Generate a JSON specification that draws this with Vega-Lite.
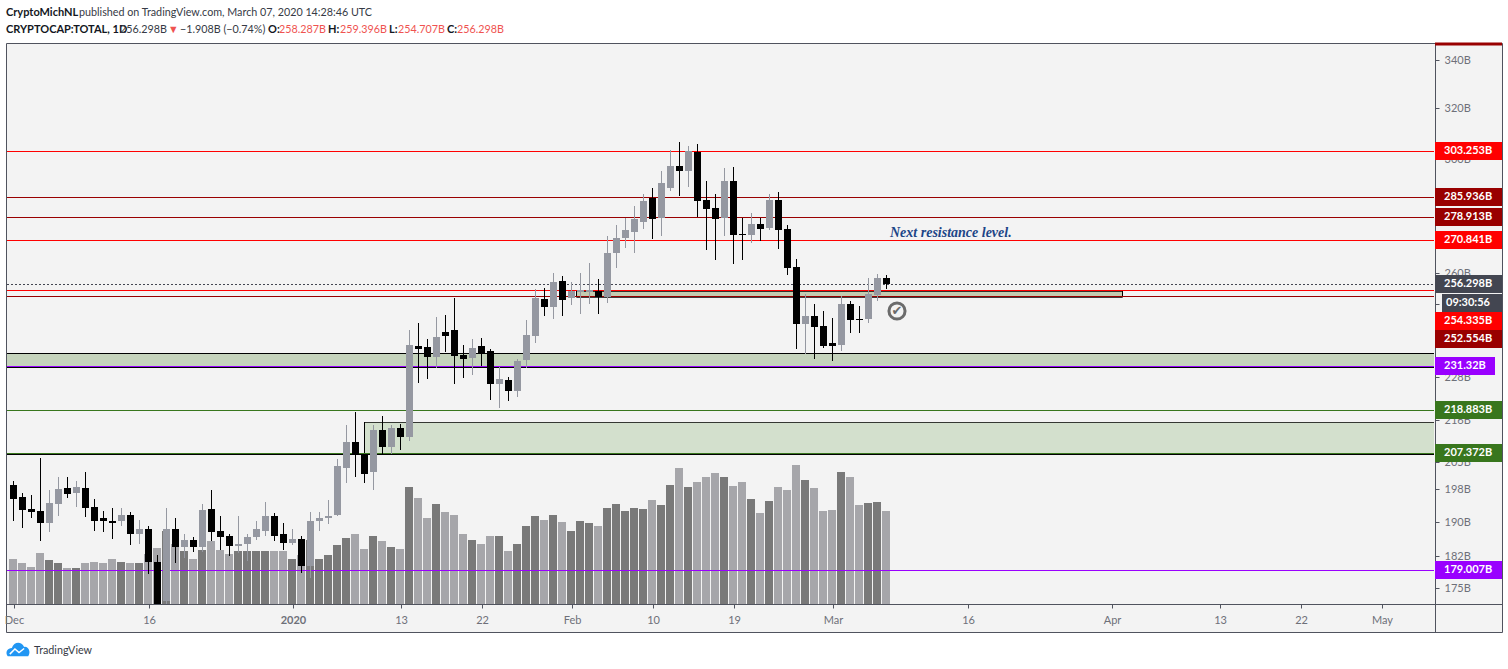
{
"$schema":"https://vega.github.io/schema/vega-lite/v6.json",
"width":1496,"height":589,
"autosize":{"type":"none"},
"padding":{"left":6,"top":43,"right":6,"bottom":37},
"background":"#ffffff",
"view":{"fill":"#f3f3f3","stroke":"#50535e"},
"config":{"font":"Lato"},
"datasets":{
"candles":[
{"date":"2019-12-01","open":199.0,"high":200.2,"low":190.4,"close":195.6,"dir":"down","vol":22.5},
{"date":"2019-12-02","open":196.2,"high":197.2,"low":188.7,"close":193.0,"dir":"down","vol":20.5},
{"date":"2019-12-03","open":193.3,"high":196.7,"low":190.9,"close":192.5,"dir":"down","vol":18.5},
{"date":"2019-12-04","open":192.8,"high":206.1,"low":185.6,"close":189.7,"dir":"down","vol":25.5},
{"date":"2019-12-05","open":189.7,"high":197.9,"low":187.6,"close":194.7,"dir":"up","vol":22},
{"date":"2019-12-06","open":194.4,"high":201.0,"low":191.6,"close":198.2,"dir":"up","vol":20.5},
{"date":"2019-12-07","open":198.4,"high":201.2,"low":195.9,"close":196.9,"dir":"down","vol":18},
{"date":"2019-12-08","open":197.2,"high":200.2,"low":193.7,"close":198.7,"dir":"up","vol":18},
{"date":"2019-12-09","open":198.4,"high":202.3,"low":191.3,"close":193.5,"dir":"down","vol":20.5},
{"date":"2019-12-10","open":193.7,"high":195.6,"low":188.0,"close":190.4,"dir":"down","vol":21},
{"date":"2019-12-11","open":190.9,"high":192.8,"low":187.6,"close":190.2,"dir":"down","vol":20.5},
{"date":"2019-12-12","open":190.2,"high":193.5,"low":186.1,"close":189.9,"dir":"down","vol":22.5},
{"date":"2019-12-13","open":190.2,"high":193.5,"low":189.2,"close":191.8,"dir":"up","vol":21},
{"date":"2019-12-14","open":191.8,"high":192.5,"low":184.7,"close":187.1,"dir":"down","vol":20.5},
{"date":"2019-12-15","open":187.1,"high":190.6,"low":184.9,"close":188.5,"dir":"up","vol":20.5},
{"date":"2019-12-16","open":188.5,"high":189.2,"low":178.1,"close":180.8,"dir":"down","vol":25},
{"date":"2019-12-17","open":180.8,"high":182.4,"low":171.4,"close":171.4,"dir":"down","vol":28},
{"date":"2019-12-18","open":172.0,"high":193.5,"low":171.4,"close":188.3,"dir":"up","vol":36.5},
{"date":"2019-12-19","open":188.3,"high":190.9,"low":180.6,"close":184.2,"dir":"down","vol":30},
{"date":"2019-12-20","open":184.2,"high":187.3,"low":181.7,"close":185.9,"dir":"up","vol":26.5},
{"date":"2019-12-21","open":185.9,"high":186.6,"low":183.1,"close":184.2,"dir":"down","vol":22.5},
{"date":"2019-12-22","open":184.2,"high":194.4,"low":183.1,"close":193.0,"dir":"up","vol":27},
{"date":"2019-12-23","open":193.3,"high":197.9,"low":185.6,"close":187.6,"dir":"down","vol":31.5},
{"date":"2019-12-24","open":187.8,"high":191.4,"low":183.5,"close":186.4,"dir":"down","vol":27},
{"date":"2019-12-25","open":186.8,"high":187.3,"low":182.2,"close":184.5,"dir":"down","vol":25},
{"date":"2019-12-26","open":184.5,"high":191.6,"low":182.8,"close":184.9,"dir":"up","vol":26.5},
{"date":"2019-12-27","open":184.9,"high":187.3,"low":181.0,"close":186.6,"dir":"up","vol":26.5},
{"date":"2019-12-28","open":186.6,"high":190.2,"low":185.9,"close":188.3,"dir":"up","vol":26.5},
{"date":"2019-12-29","open":188.0,"high":194.9,"low":186.8,"close":191.4,"dir":"up","vol":26.5},
{"date":"2019-12-30","open":191.4,"high":192.1,"low":185.6,"close":186.8,"dir":"down","vol":26.5},
{"date":"2019-12-31","open":187.1,"high":189.7,"low":183.5,"close":185.2,"dir":"down","vol":26.5},
{"date":"2020-01-01","open":185.2,"high":188.3,"low":184.7,"close":186.1,"dir":"up","vol":22.5},
{"date":"2020-01-02","open":186.1,"high":186.8,"low":178.3,"close":179.9,"dir":"down","vol":24.5},
{"date":"2020-01-03","open":179.9,"high":192.5,"low":177.2,"close":190.2,"dir":"up","vol":32},
{"date":"2020-01-04","open":190.2,"high":192.5,"low":187.8,"close":191.1,"dir":"up","vol":22.5},
{"date":"2020-01-05","open":190.9,"high":195.4,"low":189.5,"close":191.4,"dir":"up","vol":24.5},
{"date":"2020-01-06","open":191.8,"high":205.8,"low":191.4,"close":203.8,"dir":"up","vol":29.5},
{"date":"2020-01-07","open":203.5,"high":214.6,"low":199.5,"close":210.3,"dir":"up","vol":33},
{"date":"2020-01-08","open":210.3,"high":218.3,"low":201.2,"close":206.8,"dir":"down","vol":35},
{"date":"2020-01-09","open":207.1,"high":207.1,"low":199.5,"close":202.0,"dir":"down","vol":27.5},
{"date":"2020-01-10","open":202.3,"high":214.6,"low":197.9,"close":213.3,"dir":"up","vol":34},
{"date":"2020-01-11","open":213.3,"high":217.2,"low":207.1,"close":208.9,"dir":"down","vol":31.5},
{"date":"2020-01-12","open":208.9,"high":214.6,"low":207.1,"close":213.8,"dir":"up","vol":28.5},
{"date":"2020-01-13","open":214.0,"high":214.9,"low":208.1,"close":211.6,"dir":"down","vol":27.5},
{"date":"2020-01-14","open":211.6,"high":242.1,"low":210.5,"close":237.5,"dir":"up","vol":58.5},
{"date":"2020-01-15","open":237.2,"high":244.0,"low":226.5,"close":236.3,"dir":"down","vol":53},
{"date":"2020-01-16","open":236.9,"high":239.4,"low":227.4,"close":234.0,"dir":"down","vol":43},
{"date":"2020-01-17","open":234.0,"high":246.1,"low":230.8,"close":240.0,"dir":"up","vol":50},
{"date":"2020-01-18","open":241.5,"high":246.7,"low":235.4,"close":240.3,"dir":"down","vol":46},
{"date":"2020-01-19","open":242.1,"high":251.8,"low":226.0,"close":234.3,"dir":"down","vol":44.5},
{"date":"2020-01-20","open":234.6,"high":237.5,"low":227.7,"close":233.4,"dir":"down","vol":35},
{"date":"2020-01-21","open":233.7,"high":239.4,"low":228.8,"close":236.6,"dir":"up","vol":32},
{"date":"2020-01-22","open":237.2,"high":239.7,"low":231.4,"close":234.8,"dir":"down","vol":30},
{"date":"2020-01-23","open":235.7,"high":236.3,"low":221.6,"close":226.2,"dir":"down","vol":34},
{"date":"2020-01-24","open":226.2,"high":231.1,"low":219.4,"close":227.4,"dir":"up","vol":34},
{"date":"2020-01-25","open":227.1,"high":228.2,"low":221.3,"close":224.2,"dir":"down","vol":26.5},
{"date":"2020-01-26","open":224.2,"high":233.4,"low":222.5,"close":232.6,"dir":"up","vol":30},
{"date":"2020-01-27","open":232.9,"high":245.2,"low":230.6,"close":240.6,"dir":"up","vol":39},
{"date":"2020-01-28","open":240.3,"high":254.9,"low":238.2,"close":251.9,"dir":"up","vol":44},
{"date":"2020-01-29","open":251.6,"high":255.2,"low":246.4,"close":249.2,"dir":"down","vol":42},
{"date":"2020-01-30","open":249.2,"high":260.1,"low":245.5,"close":257.2,"dir":"up","vol":44.5},
{"date":"2020-01-31","open":257.5,"high":259.1,"low":246.4,"close":251.3,"dir":"down","vol":41},
{"date":"2020-02-01","open":251.9,"high":257.2,"low":249.8,"close":254.2,"dir":"up","vol":36.5},
{"date":"2020-02-02","open":253.9,"high":260.1,"low":247.0,"close":254.5,"dir":"up","vol":41.5},
{"date":"2020-02-03","open":253.9,"high":263.4,"low":250.1,"close":254.5,"dir":"up","vol":40.5},
{"date":"2020-02-04","open":254.2,"high":258.1,"low":247.0,"close":252.2,"dir":"down","vol":39},
{"date":"2020-02-05","open":252.3,"high":272.2,"low":250.4,"close":266.7,"dir":"up","vol":48},
{"date":"2020-02-06","open":266.7,"high":276.2,"low":261.5,"close":271.6,"dir":"up","vol":50},
{"date":"2020-02-07","open":271.6,"high":278.6,"low":268.4,"close":274.4,"dir":"up","vol":46.5},
{"date":"2020-02-08","open":273.6,"high":282.7,"low":266.7,"close":278.2,"dir":"up","vol":48},
{"date":"2020-02-09","open":277.2,"high":287.0,"low":274.8,"close":284.8,"dir":"up","vol":47.5},
{"date":"2020-02-10","open":285.8,"high":289.2,"low":271.2,"close":278.2,"dir":"down","vol":52},
{"date":"2020-02-11","open":278.5,"high":295.7,"low":272.2,"close":291.3,"dir":"up","vol":49.5},
{"date":"2020-02-12","open":289.5,"high":303.5,"low":288.1,"close":297.6,"dir":"up","vol":59.5},
{"date":"2020-02-13","open":297.6,"high":306.7,"low":286.6,"close":295.7,"dir":"down","vol":68},
{"date":"2020-02-14","open":295.7,"high":305.1,"low":289.8,"close":303.1,"dir":"up","vol":58.5},
{"date":"2020-02-15","open":302.8,"high":305.9,"low":279.1,"close":284.8,"dir":"down","vol":61},
{"date":"2020-02-16","open":285.1,"high":292.0,"low":267.7,"close":281.6,"dir":"down","vol":63.5},
{"date":"2020-02-17","open":282.0,"high":287.0,"low":264.1,"close":278.2,"dir":"down","vol":65.5},
{"date":"2020-02-18","open":278.5,"high":296.8,"low":272.2,"close":291.7,"dir":"up","vol":63.5},
{"date":"2020-02-19","open":292.0,"high":297.1,"low":263.1,"close":272.6,"dir":"down","vol":59},
{"date":"2020-02-20","open":272.9,"high":278.5,"low":264.1,"close":272.6,"dir":"down","vol":61},
{"date":"2020-02-21","open":272.6,"high":280.2,"low":270.1,"close":276.4,"dir":"up","vol":52.5},
{"date":"2020-02-22","open":276.4,"high":278.5,"low":270.8,"close":274.7,"dir":"down","vol":45.5},
{"date":"2020-02-23","open":275.0,"high":287.3,"low":274.3,"close":285.1,"dir":"up","vol":51.5},
{"date":"2020-02-24","open":285.1,"high":287.7,"low":268.0,"close":274.3,"dir":"down","vol":58.5},
{"date":"2020-02-25","open":274.7,"high":276.1,"low":259.2,"close":261.5,"dir":"down","vol":57},
{"date":"2020-02-26","open":261.8,"high":264.7,"low":236.3,"close":243.7,"dir":"down","vol":69.5},
{"date":"2020-02-27","open":243.7,"high":253.3,"low":234.8,"close":246.4,"dir":"up","vol":62},
{"date":"2020-02-28","open":246.4,"high":250.1,"low":233.4,"close":243.0,"dir":"down","vol":58},
{"date":"2020-02-29","open":243.3,"high":247.9,"low":236.6,"close":237.2,"dir":"down","vol":46.5},
{"date":"2020-03-01","open":238.1,"high":245.8,"low":232.8,"close":237.2,"dir":"down","vol":47},
{"date":"2020-03-02","open":237.5,"high":252.6,"low":235.7,"close":250.1,"dir":"up","vol":66},
{"date":"2020-03-03","open":250.1,"high":251.0,"low":241.2,"close":245.2,"dir":"down","vol":63.5},
{"date":"2020-03-04","open":245.5,"high":249.5,"low":241.2,"close":245.2,"dir":"down","vol":49.5},
{"date":"2020-03-05","open":245.5,"high":258.2,"low":244.0,"close":253.3,"dir":"up","vol":50.5},
{"date":"2020-03-06","open":252.9,"high":259.8,"low":251.0,"close":258.4,"dir":"up","vol":51},
{"date":"2020-03-07","open":258.287,"high":259.396,"low":254.707,"close":256.298,"dir":"down","vol":46.5}
],
"zones":[
{"date":"2019-11-30T06:40:00Z","end":"2020-05-06T20:00:00Z","top":235.08,"bottom":230.96,"kind":"upper"},
{"date":"2020-01-09T00:00:00Z","end":"2020-05-06T20:00:00Z","top":215.5,"bottom":207.0,"kind":"lower"},
{"date":"2020-02-01T13:20:00Z","end":"2020-04-02T05:20:00Z","top":254.2,"bottom":252.2,"kind":"pivot"}
],
"edges":[
{"date":"2020-01-09T00:00:00Z","top":215.5,"bottom":207.0},
{"date":"2020-02-01T13:20:00Z","top":254.2,"bottom":252.2},
{"date":"2020-04-02T05:20:00Z","top":254.2,"bottom":252.2}
],
"levels":[
{"date":"2019-11-30T06:40:00Z","end":"2020-05-06T20:00:00Z","price":303.253,"kind":"red","style":"solid"},
{"date":"2019-11-30T06:40:00Z","end":"2020-05-06T20:00:00Z","price":285.936,"kind":"dark","style":"solid"},
{"date":"2019-11-30T06:40:00Z","end":"2020-05-06T20:00:00Z","price":278.913,"kind":"dark","style":"solid"},
{"date":"2019-11-30T06:40:00Z","end":"2020-05-06T20:00:00Z","price":270.841,"kind":"red","style":"solid"},
{"date":"2019-11-30T06:40:00Z","end":"2020-05-06T20:00:00Z","price":256.298,"kind":"last","style":"dotted"},
{"date":"2020-02-01T13:20:00Z","end":"2020-04-02T05:20:00Z","price":254.2,"kind":"black","style":"solid"},
{"date":"2019-11-30T06:40:00Z","end":"2020-05-06T20:00:00Z","price":254.335,"kind":"red","style":"solid"},
{"date":"2019-11-30T06:40:00Z","end":"2020-05-06T20:00:00Z","price":252.554,"kind":"dark","style":"solid"},
{"date":"2020-02-01T13:20:00Z","end":"2020-04-02T05:20:00Z","price":252.2,"kind":"black","style":"solid"},
{"date":"2019-11-30T06:40:00Z","end":"2020-05-06T20:00:00Z","price":235.08,"kind":"black","style":"solid"},
{"date":"2019-11-30T06:40:00Z","end":"2020-05-06T20:00:00Z","price":231.32,"kind":"purple","style":"solid"},
{"date":"2019-11-30T06:40:00Z","end":"2020-05-06T20:00:00Z","price":230.96,"kind":"black","style":"solid"},
{"date":"2019-11-30T06:40:00Z","end":"2020-05-06T20:00:00Z","price":218.883,"kind":"green","style":"solid"},
{"date":"2020-01-09T00:00:00Z","end":"2020-05-06T20:00:00Z","price":215.5,"kind":"black","style":"solid"},
{"date":"2019-11-30T06:40:00Z","end":"2020-05-06T20:00:00Z","price":207.372,"kind":"green","style":"solid"},
{"date":"2019-11-30T06:40:00Z","end":"2020-05-06T20:00:00Z","price":207.0,"kind":"black","style":"solid"},
{"date":"2019-11-30T06:40:00Z","end":"2020-05-06T20:00:00Z","price":179.007,"kind":"purple","style":"solid"}
],
"tags":[
{"date":"2020-05-06T22:40:00Z","end":"2020-05-14T09:20:00Z","labelAt":"2020-05-07T22:40:00Z","pos":303.253,"label":"303.253B","kind":"red"},
{"date":"2020-05-06T22:40:00Z","end":"2020-05-14T09:20:00Z","labelAt":"2020-05-07T22:40:00Z","pos":285.936,"label":"285.936B","kind":"dark"},
{"date":"2020-05-06T22:40:00Z","end":"2020-05-14T09:20:00Z","labelAt":"2020-05-07T22:40:00Z","pos":278.913,"label":"278.913B","kind":"dark"},
{"date":"2020-05-06T22:40:00Z","end":"2020-05-14T09:20:00Z","labelAt":"2020-05-07T22:40:00Z","pos":270.841,"label":"270.841B","kind":"red"},
{"date":"2020-05-06T22:40:00Z","end":"2020-05-14T09:20:00Z","labelAt":"2020-05-07T22:40:00Z","pos":256.298,"label":"256.298B","kind":"last"},
{"date":"2020-05-07T17:20:00Z","end":"2020-05-14T09:20:00Z","labelAt":"2020-05-08T04:00:00Z","pos":250.3,"label":"09:30:56","kind":"last"},
{"date":"2020-05-06T22:40:00Z","end":"2020-05-14T09:20:00Z","labelAt":"2020-05-07T22:40:00Z","pos":244.7,"label":"254.335B","kind":"red"},
{"date":"2020-05-06T22:40:00Z","end":"2020-05-14T09:20:00Z","labelAt":"2020-05-07T22:40:00Z","pos":239.2,"label":"252.554B","kind":"dark"},
{"date":"2020-05-06T22:40:00Z","end":"2020-05-13T14:40:00Z","labelAt":"2020-05-07T22:40:00Z","pos":231.32,"label":"231.32B","kind":"purple"},
{"date":"2020-05-06T22:40:00Z","end":"2020-05-14T09:20:00Z","labelAt":"2020-05-07T22:40:00Z","pos":218.883,"label":"218.883B","kind":"green"},
{"date":"2020-05-06T22:40:00Z","end":"2020-05-14T09:20:00Z","labelAt":"2020-05-07T22:40:00Z","pos":207.372,"label":"207.372B","kind":"green"},
{"date":"2020-05-06T22:40:00Z","end":"2020-05-14T09:20:00Z","labelAt":"2020-05-07T22:40:00Z","pos":179.007,"label":"179.007B","kind":"purple"}
],
"headBold":[
{"date":"2019-11-30T04:00:00Z","price":360.8,"text":"CryptoMichNL"},
{"date":"2019-11-30T04:00:00Z","price":352.9,"text":"CRYPTOCAP:TOTAL, 1D"},
{"date":"2019-12-29T06:40:00Z","price":352.9,"text":"O:"},
{"date":"2020-01-04T22:40:00Z","price":352.9,"text":"H:"},
{"date":"2020-01-11T17:20:00Z","price":352.9,"text":"L:"},
{"date":"2020-01-18T04:00:00Z","price":352.9,"text":"C:"}
],
"headPlain":[
{"date":"2019-12-08T06:40:00Z","price":360.8,"text":"published on TradingView.com, March 07, 2020 14:28:46 UTC"},
{"date":"2019-12-12T20:00:00Z","price":352.9,"text":"256.298B"},
{"date":"2019-12-19T12:00:00Z","price":352.9,"text":"−1.908B (−0.74%)"},
{"date":"2019-12-03T06:40:00Z","price":161.6,"text":"TradingView"}
],
"headRed":[
{"date":"2019-12-18T04:00:00Z","price":352.9,"text":"▼"},
{"date":"2019-12-30T12:00:00Z","price":352.9,"text":"258.287B"},
{"date":"2020-01-06T06:40:00Z","price":352.9,"text":"259.396B"},
{"date":"2020-01-12T17:20:00Z","price":352.9,"text":"254.707B"},
{"date":"2020-01-19T06:40:00Z","price":352.9,"text":"256.298B"}
]
},
"encoding":{
"x":{"field":"date","type":"temporal","title":null,
"scale":{"type":"utc","domain":["2019-11-30T04:00:00Z","2020-05-14T09:20:00Z"],"nice":false,"padding":0},
"axis":{"orient":"bottom","offset":-28,"grid":false,"title":null,"domainColor":"#50535e","tickColor":"#50535e","tickSize":4,"tickOffset":0.5,"labelColor":"#6e7079","labelFont":"Lato","labelFontSize":11,"labelPadding":6,"labelOverlap":false,"labelBound":false,"labelFlush":false,
"values":[
{"year":2019,"month":12,"date":1,"utc":true},
{"year":2019,"month":12,"date":16,"utc":true},
{"year":2020,"month":1,"date":1,"utc":true},
{"year":2020,"month":1,"date":13,"utc":true},
{"year":2020,"month":1,"date":22,"utc":true},
{"year":2020,"month":2,"date":1,"utc":true},
{"year":2020,"month":2,"date":10,"utc":true},
{"year":2020,"month":2,"date":19,"utc":true},
{"year":2020,"month":3,"date":1,"utc":true},
{"year":2020,"month":3,"date":16,"utc":true},
{"year":2020,"month":4,"date":1,"utc":true},
{"year":2020,"month":4,"date":13,"utc":true},
{"year":2020,"month":4,"date":22,"utc":true},
{"year":2020,"month":5,"date":1,"utc":true}],
"labelExpr":"utcdate(datum.value)==1 ? (utcmonth(datum.value)==0 ? utcFormat(datum.value,'%Y') : utcFormat(datum.value,'%b')) : utcFormat(datum.value,'%-d')",
"labelFontWeight":{"expr":"utcdate(datum.value)==1 && utcmonth(datum.value)==0 ? 'bold' : 'normal'"}
}}
},
"resolve":{"scale":{"y":"independent","color":"independent"},"axis":{"y":"independent"}},
"layer":[
{"data":{"name":"candles"},
"mark":{"type":"bar","size":8,"xOffset":-0.5},
"encoding":{
"y":{"field":"vol","type":"quantitative","scale":{"domain":[-14,280.5],"nice":false,"zero":false,"round":true},"axis":null},
"y2":{"datum":0},
"color":{"field":"dir","type":"nominal","scale":{"domain":["up","down"],"range":["#797979","#a6a6aa"]},"legend":null}}},
{"resolve":{"scale":{"color":"independent"}},
"layer":[
{"data":{"name":"zones"},
"mark":{"type":"rect"},
"encoding":{
"x2":{"field":"end"},
"y":{"field":"top","type":"quantitative","title":null,
"scale":{"type":"log","domain":[165.49,347.22],"nice":false,"round":true},
"axis":{"orient":"right","offset":-67,"grid":false,"title":null,"domainColor":"#50535e","tickColor":"#50535e","tickSize":4,"labelColor":"#6e7079","labelFont":"Lato","labelFontSize":11,"labelPadding":5,"labelAlign":"left","labelOverlap":false,"labelBound":false,"values":[340,320,300,280,260,250,240,228,216,205,198,190,182,175],"labelExpr":"datum.value+'B'"}},
"y2":{"field":"bottom"},
"color":{"field":"kind","type":"nominal","scale":{"domain":["upper","lower","pivot"],"range":["#c5d3bc","#d3e0cd","#c3cbb0"]},"legend":null}}},
{"data":{"name":"edges"},
"mark":{"type":"rule","color":"#000000","strokeWidth":1},
"encoding":{"y":{"field":"top","type":"quantitative"},"y2":{"field":"bottom"}}},
{"data":{"name":"levels"},
"mark":{"type":"rule","strokeWidth":1,"yOffset":0.5},
"encoding":{
"x2":{"field":"end"},
"y":{"field":"price","type":"quantitative"},
"color":{"field":"kind","type":"nominal","scale":{"domain":["red","dark","purple","green","last","black"],"range":["#ff0000","#990000","#9900ff","#38761d","#434651","#000000"]},"legend":null},
"strokeDash":{"field":"style","type":"nominal","scale":{"domain":["solid","dotted"],"range":[[1,0],[2,2]]},"legend":null}}},
{"data":{"name":"candles"},
"mark":{"type":"rule","strokeWidth":1},
"encoding":{
"y":{"field":"high","type":"quantitative"},"y2":{"field":"low"},
"color":{"field":"dir","type":"nominal","scale":{"domain":["up","down"],"range":["#9598a1","#000000"]},"legend":null}}},
{"data":{"name":"candles"},
"mark":{"type":"bar","size":7},
"encoding":{
"y":{"field":"open","type":"quantitative"},"y2":{"field":"close"},
"color":{"field":"dir","type":"nominal","scale":{"domain":["up","down"],"range":["#9598a1","#000000"]},"legend":null}}},
{"data":{"values":[{"date":"2020-03-08T04:00:00Z","price":247.8}]},
"mark":{"type":"point","shape":"circle","size":260,"filled":false,"stroke":"#6b6b6b","strokeWidth":3,"opacity":1},
"encoding":{"y":{"field":"price","type":"quantitative"}}},
{"data":{"values":[{"date":"2020-03-08T04:00:00Z","price":247.8,"text":"✔"}]},
"mark":{"type":"text","font":"DejaVu Sans","fontSize":13,"fontWeight":"bold","color":"#6b6b6b","align":"center","baseline":"middle"},
"encoding":{"y":{"field":"price","type":"quantitative"},"text":{"field":"text"}}},
{"data":{"values":[{"date":"2020-03-07T09:20:00Z","price":273.4,"text":"Next resistance level."}]},
"mark":{"type":"text","font":"Liberation Serif","fontSize":14,"fontStyle":"italic","fontWeight":"bold","color":"#1c4587","align":"left","baseline":"middle"},
"encoding":{"y":{"field":"price","type":"quantitative"},"text":{"field":"text"}}},
{"data":{"name":"tags"},
"mark":{"type":"rule","strokeWidth":18},
"encoding":{
"x2":{"field":"end"},
"y":{"field":"pos","type":"quantitative"},
"color":{"field":"kind","type":"nominal","scale":{"domain":["red","dark","purple","green","last"],"range":["#ff0000","#990000","#9900ff","#38761d","#434651"]},"legend":null}}},
{"data":{"name":"tags"},
"mark":{"type":"text","font":"Lato","fontSize":11,"fontWeight":"bold","color":"#ffffff","align":"left","baseline":"middle"},
"encoding":{
"x":{"field":"labelAt","type":"temporal"},
"y":{"field":"pos","type":"quantitative"},
"text":{"field":"label"}}},
{"data":{"values":[{"date":"2020-05-06T22:40:00Z","end":"2020-05-14T09:20:00Z","price":346.6}]},
"mark":{"type":"rule","strokeWidth":3,"color":"#990000"},
"encoding":{"x2":{"field":"end"},"y":{"field":"price","type":"quantitative"}}},
{"data":{"name":"headBold"},
"mark":{"type":"text","font":"Lato","fontSize":11,"fontWeight":"bold","color":"#131722","align":"left","baseline":"middle"},
"encoding":{"y":{"field":"price","type":"quantitative"},"text":{"field":"text"}}},
{"data":{"name":"headPlain"},
"mark":{"type":"text","font":"Lato","fontSize":10.75,"color":"#363a45","align":"left","baseline":"middle"},
"encoding":{"y":{"field":"price","type":"quantitative"},"text":{"field":"text"}}},
{"data":{"name":"headRed"},
"mark":{"type":"text","font":"Lato","fontSize":10.75,"color":"#ef5350","align":"left","baseline":"middle"},
"encoding":{"y":{"field":"price","type":"quantitative"},"text":{"field":"text"}}},
{"data":{"values":[{"date":"2019-12-01T12:00:00Z","price":161.8,"part":"cloud"}]},
"mark":{"type":"point","filled":true,"opacity":1,"size":420,"color":"#2196f3","shape":"M-1,0.6 C-1.3,0.2 -1,-0.2 -0.6,-0.2 C-0.4,-0.8 0.3,-0.9 0.6,-0.3 C1,-0.4 1.3,0.2 1,0.6 Z"},
"encoding":{"y":{"field":"price","type":"quantitative"}}},
{"data":{"values":[{"date":"2019-12-01T12:00:00Z","price":161.8,"part":"line"}]},
"mark":{"type":"point","filled":false,"opacity":1,"size":420,"stroke":"#ffffff","strokeWidth":1.5,"shape":"M-0.8,0.4 L-0.3,-0.1 L0.1,0.25 L0.6,-0.15"},
"encoding":{"y":{"field":"price","type":"quantitative"}}}
]}
]
}
